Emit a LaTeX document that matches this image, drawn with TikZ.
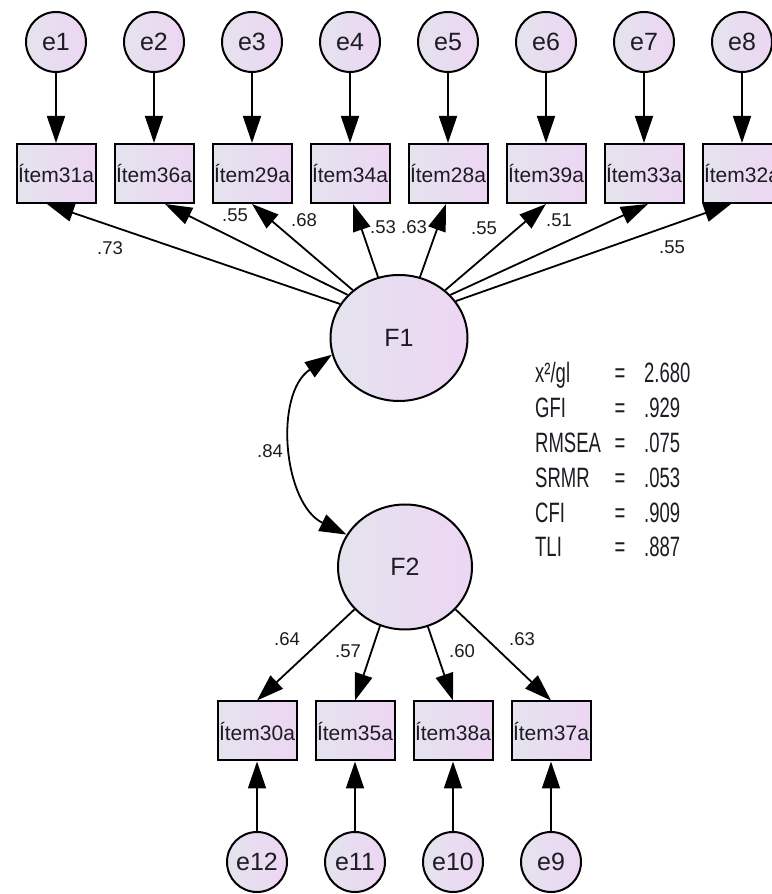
\documentclass[tikz,border=0pt]{standalone}
\usepackage{fontspec}
\setmainfont{Liberation Sans}
\newfontfamily\narrowfont[FakeStretch=0.66]{Liberation Sans}
\usetikzlibrary{arrows.meta,shapes.geometric,calc}
\definecolor{shadeL}{RGB}{228,227,238}
\definecolor{shadeR}{RGB}{237,214,243}
\definecolor{ink}{RGB}{28,28,34}
\tikzset{
	arr/.style={line width=1.8pt, -{Triangle[length=27pt,width=18pt]}},
	errnode/.style={circle, draw, line width=2pt, minimum size=60pt, inner sep=0pt,
		left color=shadeL, right color=shadeR, text=ink, font=\fontsize{25}{25}\selectfont},
	itembox/.style={rectangle, draw, line width=2pt, minimum width=79pt, minimum height=59pt,
		inner sep=0pt, left color=shadeL, right color=shadeR, text=ink, font=\fontsize{21}{21}\selectfont},
	factor/.style={ellipse, draw, line width=2pt, inner sep=0pt,
		left color=shadeL, right color=shadeR, text=ink, font=\fontsize{25}{25}\selectfont},
	coef/.style={inner sep=0pt, text=ink, font=\fontsize{18.5}{18.5}\selectfont},
	fitstat/.style={inner sep=0pt, text=ink, font=\narrowfont\fontsize{28}{28}\selectfont}
}
\begin{document}
\begin{tikzpicture}[x=1pt, y=1pt]
\useasboundingbox (0,0) rectangle (771,894);
%factors
\node[factor, minimum width=137pt, minimum height=126pt] (F1) at (399,556) {F1};
\node[factor, minimum width=134pt, minimum height=125pt] (F2) at (405,327) {F2};
%top items
\foreach \n/\num [count=\i from 0] in {1/31,2/36,3/29,4/34,5/28,6/39,7/33,8/32}{
	\node[errnode] (e\n) at ({56+\i*98}, 852) {e\n};
	\node[itembox] (it\n) at ({56+\i*98}, 720.5) {Ítem\num a};
	\draw[arr] (e\n) -- (it\n);
	}
\foreach \n/\ang/\dx in {1/150/-9,2/140/11,3/134/0,4/109/3,5/71/-2,6/46/0,7/40/4,8/33/-11}{
	\draw[arr] (F1.\ang) -- ($(it\n.south)+(\dx,0)$);
	}
%bottom items
\foreach \n/\num [count=\i from 0] in {12/30,11/35,10/38,9/37}{
	\node[errnode] (e\n) at ({257+\i*98}, 32) {e\n};
	\node[itembox] (it\n) at ({257+\i*98}, 163) {Ítem\num a};
	\draw[arr] (e\n) -- (it\n);
	}
\foreach \n/\ang in {12/220,11/247,10/291,9/320}{
	\draw[arr] (F2.\ang) -- (it\n.north);
	}
%correlation
\draw[line width=1.8pt, {Triangle[length=27pt,width=18pt]}-{Triangle[length=27pt,width=18pt]}]
	(F1.194) to[out=214, in=154] (F2.151);
%loadings
\foreach \v/\x/\y [count=\i] in {.73/110/646,.55/235/679,.68/304/674,.53/383/667,.63/414/667,
	.55/484/666,.51/559/674,.55/672/647,.84/270/443,.64/287/255,.57/348/243,.60/462/243,.63/522/255}{
	\node[coef] (c\i) at (\x,\y) {\v};
	}
%fit indices
\foreach \lab/\val [count=\i from 0] in {{x²/gl}/2.680,GFI/.929,RMSEA/.075,SRMR/.053,CFI/.909,TLI/.887}{
	\node[fitstat, anchor=base west] (s\i) at (535, {511-\i*34.8}) {\lab};
	\node[fitstat, anchor=base] (q\i) at (620, {511-\i*34.8}) {=};
	\node[fitstat, anchor=base west] (v\i) at (644, {511-\i*34.8}) {\val};
	}
\end{tikzpicture}
\end{document}
